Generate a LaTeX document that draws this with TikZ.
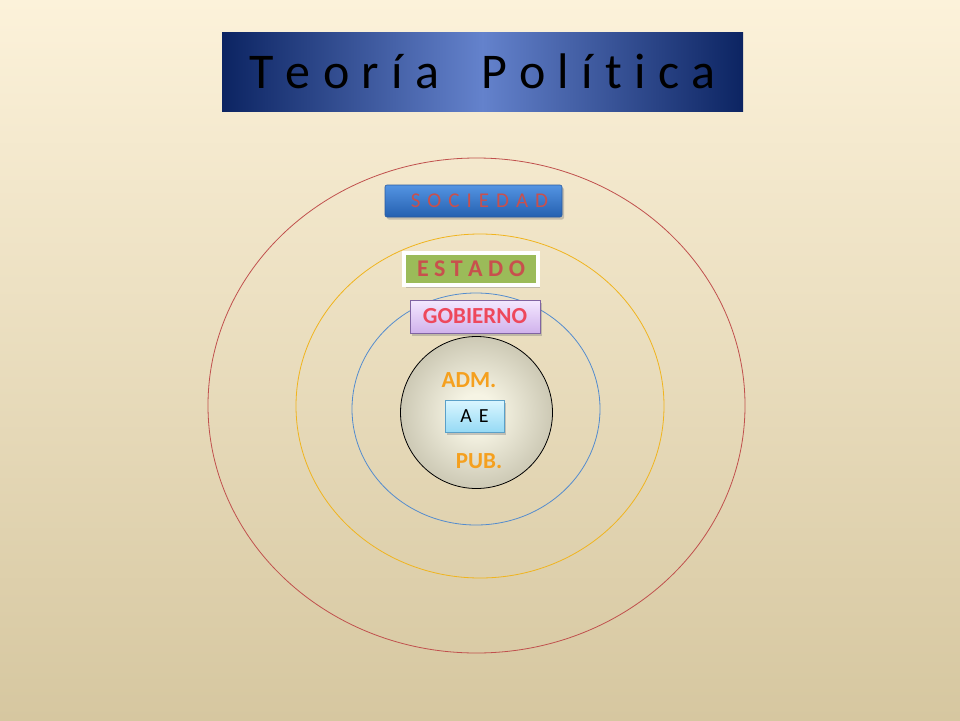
\documentclass[tikz,border=0pt]{standalone}
\usepackage{fontspec}
\setmainfont{Carlito}
\usepackage{xcolor}
\usepackage{tikz}
\usetikzlibrary{positioning,shapes.geometric,shadows}

\definecolor{bgtop}{RGB}{252,242,218}
\definecolor{bgmid}{RGB}{246,235,207}
\definecolor{bgbot}{RGB}{214,199,160}
\definecolor{navy}{RGB}{12,36,98}
\definecolor{titlemid}{RGB}{100,130,204}
\definecolor{ringred}{RGB}{192,80,77}
\definecolor{ringgold}{RGB}{240,180,30}
\definecolor{ringblue}{RGB}{84,140,206}
\definecolor{txtred}{RGB}{200,80,77}
\definecolor{estgreen}{RGB}{155,187,89}
\definecolor{gobpink}{RGB}{238,72,92}
\definecolor{gobtop}{RGB}{244,232,255}
\definecolor{gobbot}{RGB}{208,178,236}
\definecolor{gobline}{RGB}{128,100,162}
\definecolor{admorange}{RGB}{245,160,30}
\definecolor{soctop}{RGB}{84,148,226}
\definecolor{socbot}{RGB}{36,96,176}
\definecolor{socline}{RGB}{40,90,160}
\definecolor{aetop}{RGB}{218,246,255}
\definecolor{aebot}{RGB}{150,218,245}
\definecolor{aeline}{RGB}{90,160,200}
\definecolor{admin}{RGB}{246,244,228}
\definecolor{admout}{RGB}{150,144,118}

\pgfdeclareradialshading{admshade}{\pgfpoint{0bp}{0bp}}{color(0bp)=(admin); color(6bp)=(admin); color(50bp)=(admout)}

\begin{document}
\begin{tikzpicture}[
    x=1pt, y=-1pt,
    ring/.style={ellipse, draw=#1, line width=0.8pt, inner sep=0pt},
    tag/.style={rectangle, inner sep=0pt, text=txtred,
      drop shadow={shadow xshift=2pt, shadow yshift=-2.5pt, opacity=0.4}},
    core/.style={font=\fontsize{23}{26}\selectfont\bfseries, text=admorange},
  ]
  \useasboundingbox (0,0) rectangle (960,720);
  \fill[top color=bgtop, middle color=bgmid, bottom color=bgbot] (0,0) rectangle (960,720);

  % title
  \node[rectangle, minimum width=521pt, minimum height=79pt, inner sep=0pt,
        left color=navy, right color=navy, middle color=titlemid,
        font=\fontsize{50}{56}\selectfont] (title) at (482.5,71.5)
        {\spaceskip=12.3pt\relax T e o r í a\hspace{42pt}P o l í t i c a};

  % rings
  \node[ring=ringred, minimum width=537pt, minimum height=495pt] (socring) at (476.5,405.5) {};
  \node[ring=ringgold, minimum width=368pt, minimum height=344pt] (estring) at (480,406) {};
  \node[ring=ringblue, minimum width=248pt, minimum height=232pt] (gobring) at (476,409) {};
  \node[circle, draw=black, line width=0.8pt, minimum size=152pt, inner sep=0pt,
        shading=admshade] (adm) at (476.5,412.5) {};

  % labels
  \node[tag, minimum width=177pt, minimum height=32pt, draw=socline, line width=0.6pt,
        rounded corners=2pt, top color=soctop, bottom color=socbot,
        font=\fontsize{21}{24}\selectfont] (sociedad) at (473.5,201)
        {\spaceskip=7pt\relax\kern12pt S O C I E D A D};
  \node[tag, minimum width=134pt, minimum height=32pt, draw=white, line width=4pt,
        fill=estgreen, font=\fontsize{24}{28}\selectfont\bfseries] (estado) at (471,269)
        {E S T A D O};
  \node[tag, minimum width=130pt, minimum height=33pt, draw=gobline, line width=0.8pt,
        top color=gobtop, bottom color=gobbot, text=gobpink,
        font=\fontsize{23}{26}\selectfont\bfseries] (gobierno) at (475,316.5) {GOBIERNO};

  \node[core] (admtxt) at (469,380) {ADM.};
  \node[tag, minimum width=59pt, minimum height=32pt, draw=aeline, line width=0.6pt,
        top color=aetop, bottom color=aebot, text=black,
        font=\fontsize{20}{24}\selectfont] (ae) at (474.5,416) {\spaceskip=7pt\relax A E};
  \node[core] (pubtxt) at (479,461) {PUB.};
\end{tikzpicture}
\end{document}
